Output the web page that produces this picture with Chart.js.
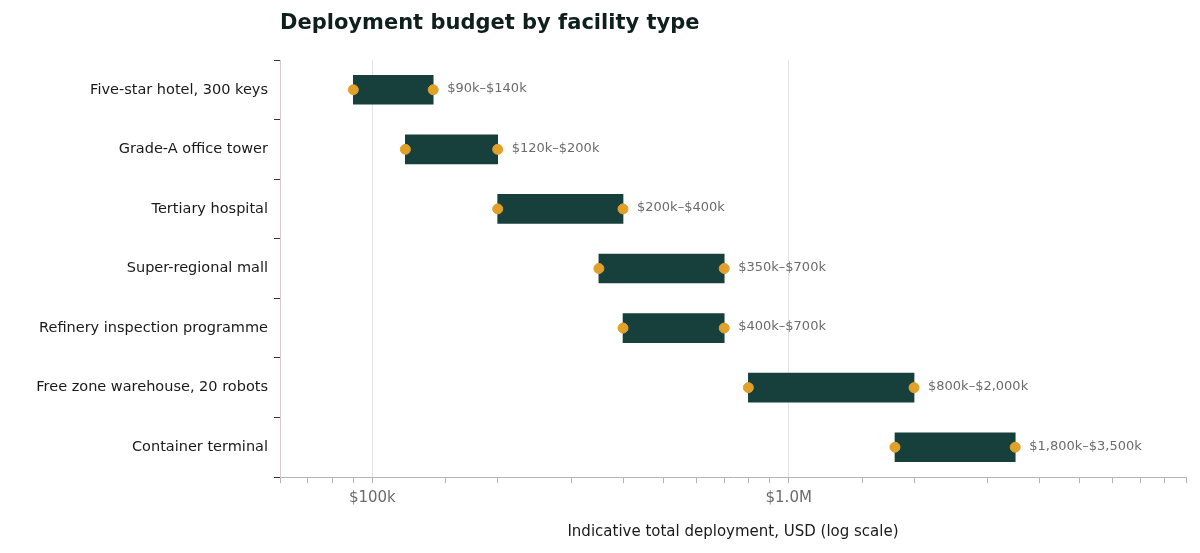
<!DOCTYPE html>
<html lang="en">
<head>
<meta charset="UTF-8">
<title>Deployment budget by facility type</title>
<script src="https://cdn.jsdelivr.net/npm/chart.js"></script>
<style>
  body { margin: 0; background: #fff; font-family: "DejaVu Sans", sans-serif; }
  #wrap { width: 1200px; height: 553px; }
</style>
</head>
<body>
<div id="wrap"><canvas id="chartCanvas"></canvas></div>
<script>
const facilities = [
  'Five-star hotel, 300 keys',
  'Grade-A office tower',
  'Tertiary hospital',
  'Super-regional mall',
  'Refinery inspection programme',
  'Free zone warehouse, 20 robots',
  'Container terminal'
];
const lowUsd = [90000, 120000, 200000, 350000, 400000, 800000, 1800000];
const highUsd = [140000, 200000, 400000, 700000, 700000, 2000000, 3500000];
const rangeLabels = ['$90k–$140k', '$120k–$200k', '$200k–$400k', '$350k–$700k',
  '$400k–$700k', '$800k–$2,000k', '$1,800k–$3,500k'];

const FONT = '"DejaVu Sans", sans-serif';

// title + end labels, drawn against the chart area
const annotate = {
  id: 'annotate',
  afterDraw(chart) {
    const ctx = chart.ctx;
    const x = chart.scales.x, y = chart.scales.y;
    ctx.save();
    ctx.fillStyle = '#0f1f1c';
    ctx.font = 'bold 21px ' + FONT;
    ctx.textBaseline = 'middle';
    ctx.fillText('Deployment budget by facility type', chart.chartArea.left, 24);
    ctx.font = '13px ' + FONT;
    ctx.fillStyle = '#6b6b6b';
    rangeLabels.forEach((t, i) => {
      ctx.fillText(t, x.getPixelForValue(highUsd[i]) + 14, y.getPixelForValue(i) - 1);
    });
    ctx.restore();
  }
};

new Chart(document.getElementById('chartCanvas'), {
  data: {
    labels: facilities,
    datasets: [
      {
        type: 'bar',
        data: facilities.map((f, i) => [lowUsd[i], highUsd[i]]),
        backgroundColor: '#17403c',
        barThickness: 29,
        borderSkipped: false,
        order: 2
      },
      {
        type: 'line',
        indexAxis: 'y',
        showLine: false,
        data: facilities.flatMap((f, i) => [{ x: lowUsd[i], y: f }, { x: highUsd[i], y: f }]),
        pointBackgroundColor: '#e0a02a',
        pointBorderColor: '#e0a02a',
        pointRadius: 5,
        order: 1
      }
    ]
  },
  options: {
    indexAxis: 'y',
    responsive: true,
    maintainAspectRatio: false,
    animation: false,
    layout: { padding: { top: 60, right: 14, left: 0, bottom: 8 } },
    plugins: { legend: { display: false }, tooltip: { enabled: false } },
    scales: {
      x: {
        type: 'logarithmic',
        min: 60000,
        max: 9000000,
        border: { color: '#b5b5b5' },
        grid: {
          color: c => (c.tick && (c.tick.value === 100000 || c.tick.value === 1000000)) ? '#e3e3e3' : 'rgba(0,0,0,0)',
          drawTicks: true,
          tickColor: '#b5b5b5',
          tickLength: 6
        },
        ticks: {
          autoSkip: false,
          maxRotation: 0,
          color: '#6b6b6b',
          font: { family: FONT, size: 15 },
          padding: 6,
          callback: v => v === 100000 ? '$100k' : v === 1000000 ? '$1.0M' : ''
        },
        title: {
          display: true,
          text: 'Indicative total deployment, USD (log scale)',
          color: '#1a1a1a',
          font: { family: FONT, size: 15 },
          padding: { top: 10 }
        }
      },
      y: {
        type: 'category',
        offset: true,
        afterFit: s => { s.width = 280; },
        border: { color: '#d8c8cc' },
        grid: { drawOnChartArea: false, drawTicks: true, tickLength: 6, tickColor: '#333' },
        ticks: { color: '#1a1a1a', font: { family: FONT, size: 14.5 }, padding: 6 }
      }
    }
  },
  plugins: [annotate]
});
</script>
</body>
</html>
